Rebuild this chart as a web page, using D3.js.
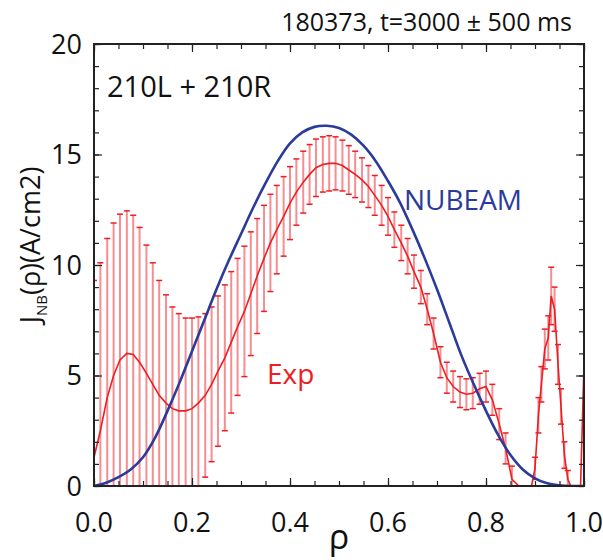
<!DOCTYPE html>
<html>
<head>
<meta charset="utf-8">
<script src="https://cdn.jsdelivr.net/npm/d3@7"></script>
<style>
  body { margin: 0; background: #fff; }
  svg { display: block; font-family: "Open Sans", sans-serif; }
</style>
</head>
<body>
<svg id="chart"></svg>
<script>
// experimental profile (red), rho grid, value and error half-width
const rho = [0.000, 0.013, 0.027, 0.040, 0.053, 0.067, 0.080, 0.093, 0.107, 0.120,
             0.133, 0.147, 0.160, 0.173, 0.187, 0.200, 0.213, 0.227, 0.240, 0.253,
             0.267, 0.280, 0.293, 0.307, 0.320, 0.333, 0.347, 0.360, 0.373, 0.387,
             0.400, 0.413, 0.427, 0.440, 0.453, 0.467, 0.480, 0.493, 0.507, 0.520,
             0.533, 0.547, 0.560, 0.573, 0.587, 0.600, 0.613, 0.627, 0.640, 0.653,
             0.667, 0.680, 0.693, 0.707, 0.720, 0.733, 0.747, 0.760, 0.773, 0.787,
             0.800, 0.813, 0.827, 0.840, 0.853, 0.867, 0.880, 0.893, 0.900, 0.907,
             0.913, 0.920, 0.927, 0.933, 0.940, 0.947, 0.953, 0.960, 0.967, 0.973,
             0.980, 0.987, 0.993, 1.000];
const jExp = [1.3, 2.5, 4.0, 5.0, 5.7, 6.0, 5.95, 5.6, 5.1, 4.6,
              4.1, 3.75, 3.5, 3.4, 3.4, 3.5, 3.75, 4.1, 4.6, 5.2,
              5.8, 6.5, 7.2, 7.9, 8.7, 9.5, 10.3, 11.0, 11.6, 12.2,
              12.8, 13.3, 13.75, 14.1, 14.4, 14.55, 14.6, 14.6, 14.5, 14.3,
              14.1, 13.85, 13.55, 13.15, 12.7, 12.2, 11.6, 11.0, 10.4, 9.7,
              9.0, 8.0, 6.9, 5.6, 4.9, 4.5, 4.25, 4.15, 4.2, 4.4,
              4.5, 3.9, 2.8, 1.7, 0.3, 0, 0, 0, 0.8, 3.2,
              4.6, 6.2, 6.7, 8.6, 8.0, 5.5, 3.6, 1.4, 0.3, 0,
              0, 0, 0, 5.5];
const jErr = [8.0, 7.6, 7.2, 6.9, 6.6, 6.45, 6.3, 6.1, 5.8, 5.5,
              5.2, 4.9, 4.6, 4.4, 4.2, 4.1, 3.9, 3.7, 3.5, 3.4,
              3.3, 3.2, 3.1, 2.95, 2.8, 2.6, 2.4, 2.2, 2.0, 1.8,
              1.65, 1.5, 1.4, 1.35, 1.3, 1.25, 1.25, 1.2, 1.15, 1.1,
              1.05, 1.0, 0.95, 0.9, 0.9, 0.85, 0.8, 0.8, 0.8, 0.75,
              0.75, 0.7, 0.7, 0.7, 0.7, 0.7, 0.7, 0.7, 0.7, 0.7,
              0.7, 0.7, 0.7, 0.7, 0.6, 0, 0, 0, 0.5, 0.8,
              0.8, 0.9, 1.0, 1.3, 1.0, 0.9, 0.8, 0.6, 0.4, 0,
              0, 0, 0, 0];

// NUBEAM profile (blue)
const rhoNubeam = [0, 0.025, 0.05, 0.075, 0.1, 0.125, 0.15, 0.175, 0.2, 0.225,
                   0.25, 0.275, 0.3, 0.325, 0.35, 0.375, 0.4, 0.425, 0.45, 0.475,
                   0.5, 0.525, 0.55, 0.575, 0.6, 0.625, 0.65, 0.675, 0.7, 0.725,
                   0.75, 0.775, 0.8, 0.825, 0.85, 0.875, 0.9, 0.925, 0.95, 0.975, 1.0];
const jNubeam = [0, 0.15, 0.4, 0.75, 1.3, 2.2, 3.4, 4.7, 6.1, 7.5,
                 8.9, 10.2, 11.4, 12.6, 13.7, 14.7, 15.5, 16.0, 16.25, 16.3,
                 16.2, 15.9, 15.4, 14.7, 13.8, 12.8, 11.6, 10.3, 8.9, 7.4,
                 5.9, 4.6, 3.4, 2.3, 1.4, 0.75, 0.35, 0.12, 0.03, 0, 0];

const xTicks = [0, 0.2, 0.4, 0.6, 0.8, 1.0];
const yTicks = [0, 5, 10, 15, 20];

const size = {width: 603, height: 560};
const margin = {top: 44, right: 19, bottom: 74, left: 94};
const w = size.width - margin.left - margin.right;
const h = size.height - margin.top - margin.bottom;

const red = "#ee1d23", blue = "#2b3b9b", frame = "#222";

const svg = d3.select("#chart")
    .attr("width", size.width)
    .attr("height", size.height);

const x = d3.scaleLinear().domain([0, 1]).range([0, w]);
const y = d3.scaleLinear().domain([0, 20]).range([h, 0]);

const g = svg.append("g")
    .attr("transform", "translate(" + margin.left + "," + margin.top + ")");

g.append("clipPath").attr("id", "plotclip")
  .append("rect").attr("width", w).attr("height", h);

const plot = g.append("g").attr("clip-path", "url(#plotclip)");

const pts = rho.map((r, i) => ({r: r, v: jExp[i], e: jErr[i]}));

// error bars
const bars = plot.append("g").selectAll("g")
    .data(pts.filter(d => d.e > 0))
    .enter().append("g");

bars.append("line")
    .attr("x1", d => x(d.r)).attr("x2", d => x(d.r))
    .attr("y1", d => y(Math.max(0, d.v - d.e)))
    .attr("y2", d => y(d.v + d.e))
    .attr("stroke", red).attr("stroke-opacity", 0.5)
    .attr("stroke-width", 2);

bars.append("line")
    .attr("x1", d => x(d.r) - 3).attr("x2", d => x(d.r) + 3)
    .attr("y1", d => y(d.v + d.e)).attr("y2", d => y(d.v + d.e))
    .attr("stroke", red).attr("stroke-width", 1.5);

bars.filter(d => d.v - d.e > 0).append("line")
    .attr("x1", d => x(d.r) - 3).attr("x2", d => x(d.r) + 3)
    .attr("y1", d => y(d.v - d.e)).attr("y2", d => y(d.v - d.e))
    .attr("stroke", red).attr("stroke-width", 1.5);

// experimental line
plot.append("path")
    .datum(pts)
    .attr("fill", "none")
    .attr("stroke", red)
    .attr("stroke-width", 1.6)
    .attr("d", d3.line().x(d => x(d.r)).y(d => y(d.v)));

// NUBEAM line
plot.append("path")
    .datum(rhoNubeam.map((r, i) => ({r: r, v: jNubeam[i]})))
    .attr("fill", "none")
    .attr("stroke", blue)
    .attr("stroke-width", 2.6)
    .attr("d", d3.line().curve(d3.curveCatmullRom).x(d => x(d.r)).y(d => y(d.v)));

// ticks, inside on all four sides
function tickMarks(axis, values, len) {
  return axis.tickValues(values).tickSize(-len).tickFormat("");
}
const minorX = d3.range(0, 1.0001, 0.05), minorY = d3.range(0, 20.001, 1);

[[d3.axisBottom, "translate(0," + h + ")"], [d3.axisTop, "translate(0,0)"]].forEach(function(a) {
  g.append("g").attr("class", "tk").attr("transform", a[1]).call(tickMarks(a[0](x), minorX, 5));
  g.append("g").attr("class", "tk").attr("transform", a[1]).call(tickMarks(a[0](x), xTicks, 8));
});
[[d3.axisLeft, "translate(0,0)"], [d3.axisRight, "translate(" + w + ",0)"]].forEach(function(a) {
  g.append("g").attr("class", "tk").attr("transform", a[1]).call(tickMarks(a[0](y), minorY, 5));
  g.append("g").attr("class", "tk").attr("transform", a[1]).call(tickMarks(a[0](y), yTicks, 8));
});
g.selectAll(".tk .domain").remove();
g.selectAll(".tk line").attr("stroke", frame).attr("stroke-width", 1.2);

// frame
g.append("rect")
    .attr("width", w).attr("height", h)
    .attr("fill", "none").attr("stroke", frame).attr("stroke-width", 2);

// tick labels
g.append("g").selectAll("text")
    .data(xTicks).enter().append("text")
    .attr("x", d => x(d)).attr("y", h + 46)
    .attr("text-anchor", "middle")
    .style("font-size", "27px").attr("fill", "#111")
    .text(d => d.toFixed(1));

g.append("g").selectAll("text")
    .data(yTicks).enter().append("text")
    .attr("x", -12).attr("y", d => y(d))
    .attr("dy", "0.36em")
    .attr("text-anchor", "end")
    .style("font-size", "27px").attr("fill", "#111")
    .text(d => d);

// axis titles
svg.append("text")
    .attr("x", margin.left + w / 2).attr("y", 549)
    .attr("text-anchor", "middle")
    .style("font-size", "34px").attr("fill", "#111")
    .text("ρ");

const yl = svg.append("text")
    .attr("transform", "translate(40,245) rotate(-90)")
    .attr("text-anchor", "middle")
    .style("font-size", "27px").attr("fill", "#111");
yl.append("tspan").text("J");
yl.append("tspan").attr("dy", 7).style("font-size", "15px").text("NB");
yl.append("tspan").attr("dy", -7).text("(ρ)(A/cm2)");

// annotations
svg.append("text")
    .attr("x", margin.left + w - 12).attr("y", 31)
    .attr("text-anchor", "end")
    .style("font-size", "25px").attr("fill", "#111")
    .text("180373, t=3000 \u00b1 500 ms");

svg.append("text")
    .attr("x", 107).attr("y", 97)
    .style("font-size", "29px").attr("fill", "#111")
    .text("210L + 210R");

svg.append("text")
    .attr("x", 404).attr("y", 210)
    .style("font-size", "28px").attr("fill", blue)
    .text("NUBEAM");

svg.append("text")
    .attr("x", 267).attr("y", 384)
    .style("font-size", "28px").attr("fill", red)
    .text("Exp");
</script>
</body>
</html>
